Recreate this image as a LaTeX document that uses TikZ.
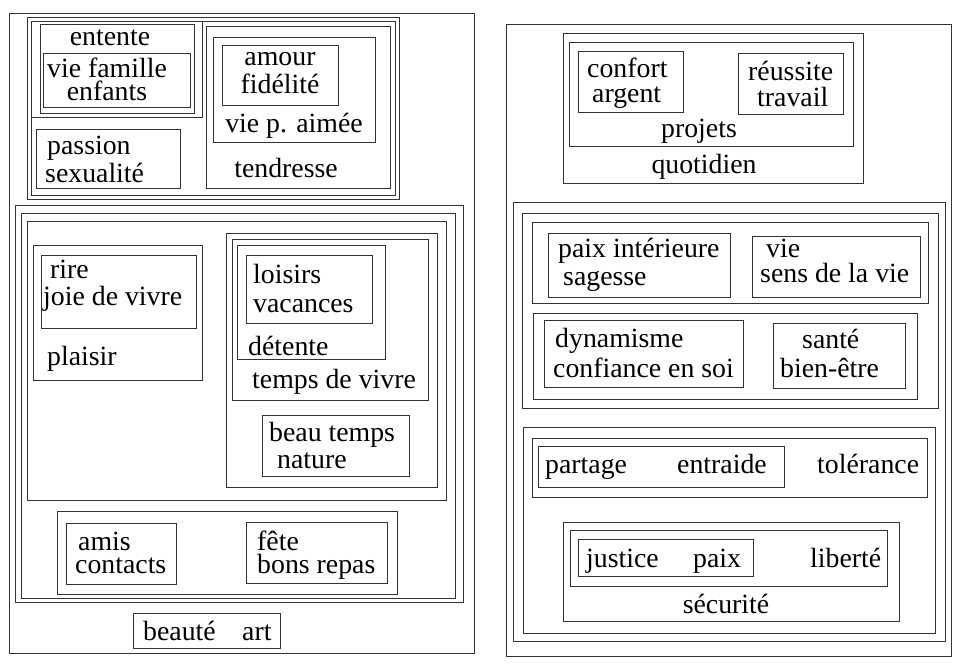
\documentclass[tikz,border=0pt]{standalone}
\usepackage{fontspec}
\setmainfont{Liberation Serif}
\newcommand\twoL[5]{\vtop{\baselineskip=#5pt\lineskiplimit=-100pt\hbox{\kern#1pt #2}\hbox{\kern#3pt #4}}}
\newcommand\twoC[3]{\vtop{\baselineskip=#3pt\lineskiplimit=-100pt\halign{\hfil##\hfil\cr#1\cr#2\cr}}}
\tikzset{
  frame/.style={draw=black!80, line width=0.9pt},
  lblbase/.style={inner sep=0pt, font=\fontsize{27.8}{27.8}\selectfont, text=black},
  lbl/.style={lblbase, text height=0.62em, text depth=0.12em},
  lw/.style={lbl, anchor=base west},
  lc/.style={lbl, anchor=base},
  mw/.style={lblbase, anchor=base west},
  mc/.style={lblbase, anchor=base},
}
\begin{document}
\begin{tikzpicture}[x=1pt,y=-1pt]
\useasboundingbox (0,0) rectangle (957,664);
% ---------------- left panel ----------------
\draw[frame] (9,13) rectangle (474,653);
% top group
\draw[frame] (27,17) rectangle (399,199);
\draw[frame] (31,21) rectangle (395,195);
\draw[frame] (31,21) rectangle (202,117);
\draw[frame] (40,24) rectangle (194,113);
\draw[frame] (43,53) rectangle (190,107);
\draw[frame] (36,129) rectangle (180,188);
\draw[frame] (206,26) rectangle (390,188);
\draw[frame] (213,37) rectangle (375,142);
\draw[frame] (222,45) rectangle (338,105);
\node[lc] (entente) at (110,45) {entente};
\node[mc] (viefam) at (107,77) {\twoC{vie famille}{enfants}{23}};
\node[mw] (passion) at (45,154) {\twoL{2}{passion}{0}{sexualité}{28}};
\node[mc] (amour) at (280,65) {\twoC{amour}{fidélité}{28}};
\node[lc] (viepaimee) at (294,132) {vie p. aimée};
\node[lc] (tendresse) at (286,177) {tendresse};
% middle group
\draw[frame] (15,205) rectangle (463,602);
\draw[frame] (21,213) rectangle (455,598);
\draw[frame] (27,221) rectangle (446,500);
\draw[frame] (33,245) rectangle (202,380);
\draw[frame] (41,255) rectangle (196,328);
\draw[frame] (226,233) rectangle (437,487);
\draw[frame] (232,239) rectangle (428,400);
\draw[frame] (237,245) rectangle (385,359);
\draw[frame] (246,255) rectangle (372,323);
\draw[frame] (262,415) rectangle (409,476);
\node[mw] (rire) at (43,278) {\twoL{7}{rire}{0}{joie de vivre}{27}};
\node[lw] (plaisir) at (47,365) {plaisir};
\node[mw] (loisirs) at (253,283) {\twoL{0}{loisirs}{0}{vacances}{29}};
\node[lw] (detente) at (248,355) {détente};
\node[lw] (tempsvivre) at (252,388) {temps de vivre};
\node[mw] (beautemps) at (269,441) {\twoL{0}{beau temps}{8}{nature}{27}};
% amis group
\draw[frame] (57,511) rectangle (397,594);
\draw[frame] (66,523) rectangle (176,584);
\draw[frame] (246,522) rectangle (387,583);
\node[mw] (amis) at (75,550) {\twoL{3}{amis}{0}{contacts}{23}};
\node[mw] (fete) at (257,550) {\twoL{0}{fête}{0}{bons repas}{23}};
% beaute art
\draw[frame] (133,613) rectangle (280,648);
\node[lw] (beaute) at (143,640) {beauté};
\node[lw] (art) at (242,640) {art};
% ---------------- right panel ----------------
\draw[frame] (506,24) rectangle (951,656);
\draw[frame] (563,33) rectangle (863,183);
\draw[frame] (569,42) rectangle (853,146);
\draw[frame] (578,51) rectangle (683,112);
\draw[frame] (738,53) rectangle (843,114);
\node[mw] (confort) at (587,77) {\twoL{0}{confort}{5}{argent}{25}};
\node[mw] (reussite) at (748,80) {\twoL{0}{réussite}{9}{travail}{26}};
\node[lc] (projets) at (699,137) {projets};
\node[lc] (quotidien) at (704,173) {quotidien};
% middle
\draw[frame] (513,202) rectangle (945,641);
\draw[frame] (522,213) rectangle (938,408);
\draw[frame] (532,222) rectangle (928,303);
\draw[frame] (548,233) rectangle (730,297);
\draw[frame] (752,236) rectangle (920,297);
\draw[frame] (533,313) rectangle (917,399);
\draw[frame] (544,320) rectangle (743,387);
\draw[frame] (773,323) rectangle (905,388);
\node[mw] (paixint) at (558,257) {\twoL{0}{paix intérieure}{5}{sagesse}{28}};
\node[mw] (vie) at (760,257) {\twoL{6}{vie}{0}{sens de la vie}{25}};
\node[mw] (dynamisme) at (553,347) {\twoL{2}{dynamisme}{0}{confiance en soi}{30}};
\node[mw] (sante) at (780,348) {\twoL{22}{santé}{0}{bien-être}{29}};
% lower
\draw[frame] (523,427) rectangle (935,633);
\draw[frame] (532,438) rectangle (927,497);
\draw[frame] (538,446) rectangle (784,487);
\draw[frame] (563,522) rectangle (899,621);
\draw[frame] (570,530) rectangle (887,586);
\draw[frame] (578,539) rectangle (753,576);
\node[lw] (partage) at (545,473) {partage};
\node[lw] (entraide) at (677,473) {entraide};
\node[lw] (tolerance) at (817,473) {tolérance};
\node[lw] (justice) at (586,567) {justice};
\node[lw] (paix) at (693,567) {paix};
\node[lw] (liberte) at (810,567) {liberté};
\node[lc] (securite) at (726,613) {sécurité};
\end{tikzpicture}
\end{document}
